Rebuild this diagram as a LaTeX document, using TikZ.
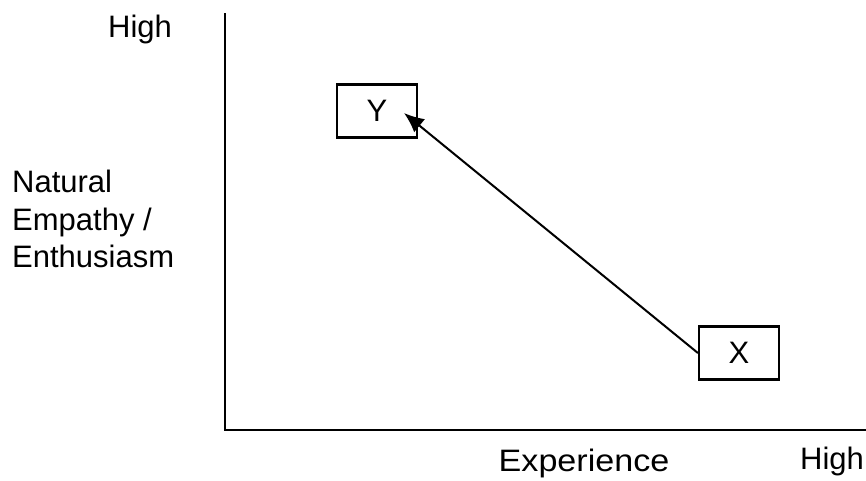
\documentclass[tikz,border=0pt]{standalone}
\usepackage{fontspec}
\setmainfont{Liberation Sans}
\usetikzlibrary{arrows.meta}
\begin{document}
\begin{tikzpicture}[x=1pt,y=-1pt,
  lbl/.style={font=\fontsize{31}{37}\selectfont, inner sep=0pt},
  box/.style={draw, line width=2.2pt, minimum width=80pt, minimum height=53pt, inner sep=0pt, font=\fontsize{31}{37}\selectfont},
  axis/.style={line width=2.2pt},
  conn/.style={line width=2pt, -{Latex[length=20pt,width=17pt]}}]
\useasboundingbox (0,0) rectangle (866,480);
\coordinate (top) at (225,13);
\coordinate (origin) at (225,430);
\coordinate (right) at (866,430);
\draw[axis] (top) -- (origin) -- (right);
\node[box] (Y) at (377,111) {Y};
\node[box] (X) at (739,353) {X};
\coordinate (tip) at (404,113);
\draw[conn] (X.west) -- (tip);
\node[lbl, anchor=base west] (hightop) at (108,37) {High};
\node[lbl, anchor=base west] (nat1) at (12,192) {Natural};
\node[lbl, anchor=base west] (nat2) at (12,230) {Empathy /};
\node[lbl, anchor=base west] (nat3) at (12,267) {Enthusiasm};
\node[lbl, anchor=base, xscale=1.1, transform shape] (exp) at (584,471) {Experience};
\node[lbl, anchor=base west] (highright) at (800,469) {High};
\end{tikzpicture}
\end{document}
